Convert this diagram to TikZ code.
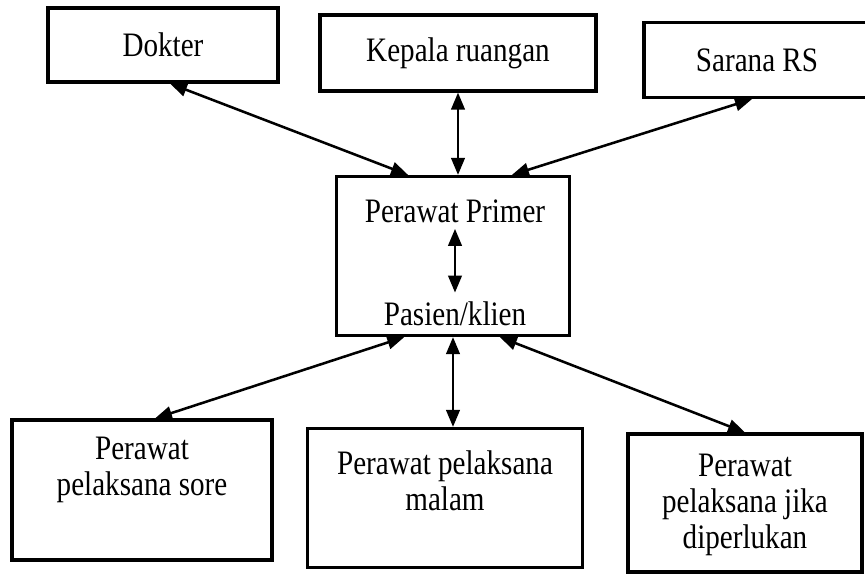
\documentclass[tikz,border=0pt]{standalone}
\usepackage{fontspec}
\setmainfont{Liberation Serif}
\newfontfamily\scanfont[FakeStretch = 0.85]{Liberation Serif}
\usetikzlibrary{arrows.meta}

\begin{document}
\begin{tikzpicture}[x = 0.02cm, y = -0.02cm,
    box/.style = {draw, line width = 0.025in, inner sep = 0pt},
    txt/.style = {align = center, font = \scanfont\fontsize{19.5}{20.5}\selectfont, inner sep = 0pt},
    link/.style = {{Triangle[length = 0.34cm, width = 0.27cm]}-{Triangle[length = 0.34cm, width = 0.27cm]}, line width = 0.02in}]
    \useasboundingbox (0,0) rectangle (865,574);

    % top row
    \node[box, txt, minimum width = 4.6cm, minimum height = 1.48cm] (dok) at (163,45) {Dokter};
    \node[box, txt, minimum width = 5.52cm, minimum height = 1.52cm] (kep) at (458,53) {Kepala ruangan};
    \node[box, txt, minimum width = 4.52cm, minimum height = 1.5cm] (sar) at (757,60) {Sarana RS};

    % centre
    \node[box, minimum width = 4.66cm, minimum height = 3.18cm] (pp) at (453,256) {};
    \node[txt] (prim) at (455,211) {Perawat Primer};
    \node[txt] (pas) at (455,314) {Pasien/klien};

    % bottom row
    \node[box, minimum width = 5.2cm, minimum height = 2.8cm] (sore) at (142,490) {};
    \node[box, minimum width = 5.5cm, minimum height = 2.78cm] (mal) at (445,498) {};
    \node[box, minimum width = 4.68cm, minimum height = 2.76cm] (jika) at (745,503) {};
    \node[txt] (soret) at (142,470) {Perawat\\pelaksana sore};
    \node[txt] (malt) at (445,481) {Perawat pelaksana\\malam};
    \node[txt] (jikat) at (745,505) {Perawat\\pelaksana jika\\diperlukan};

    \draw[link, shorten <= 0.12cm, shorten >= 0.18cm] (prim) -- (pas);

    \draw[link] ([xshift = 0.14cm]dok.south) -- (pp.119);
    \draw[link] (kep.south) -- (kep.south |- pp.north);
    \draw[link] ([xshift = -0.1cm]sar.south) -- (pp.54);

    \draw[link] (pp.239) -- ([xshift = 0.26cm]sore.north);
    \draw[link] (pp.south) -- (pp.south |- mal.north);
    \draw[link] (pp.-60) -- (jika.north);
\end{tikzpicture}
\end{document}
